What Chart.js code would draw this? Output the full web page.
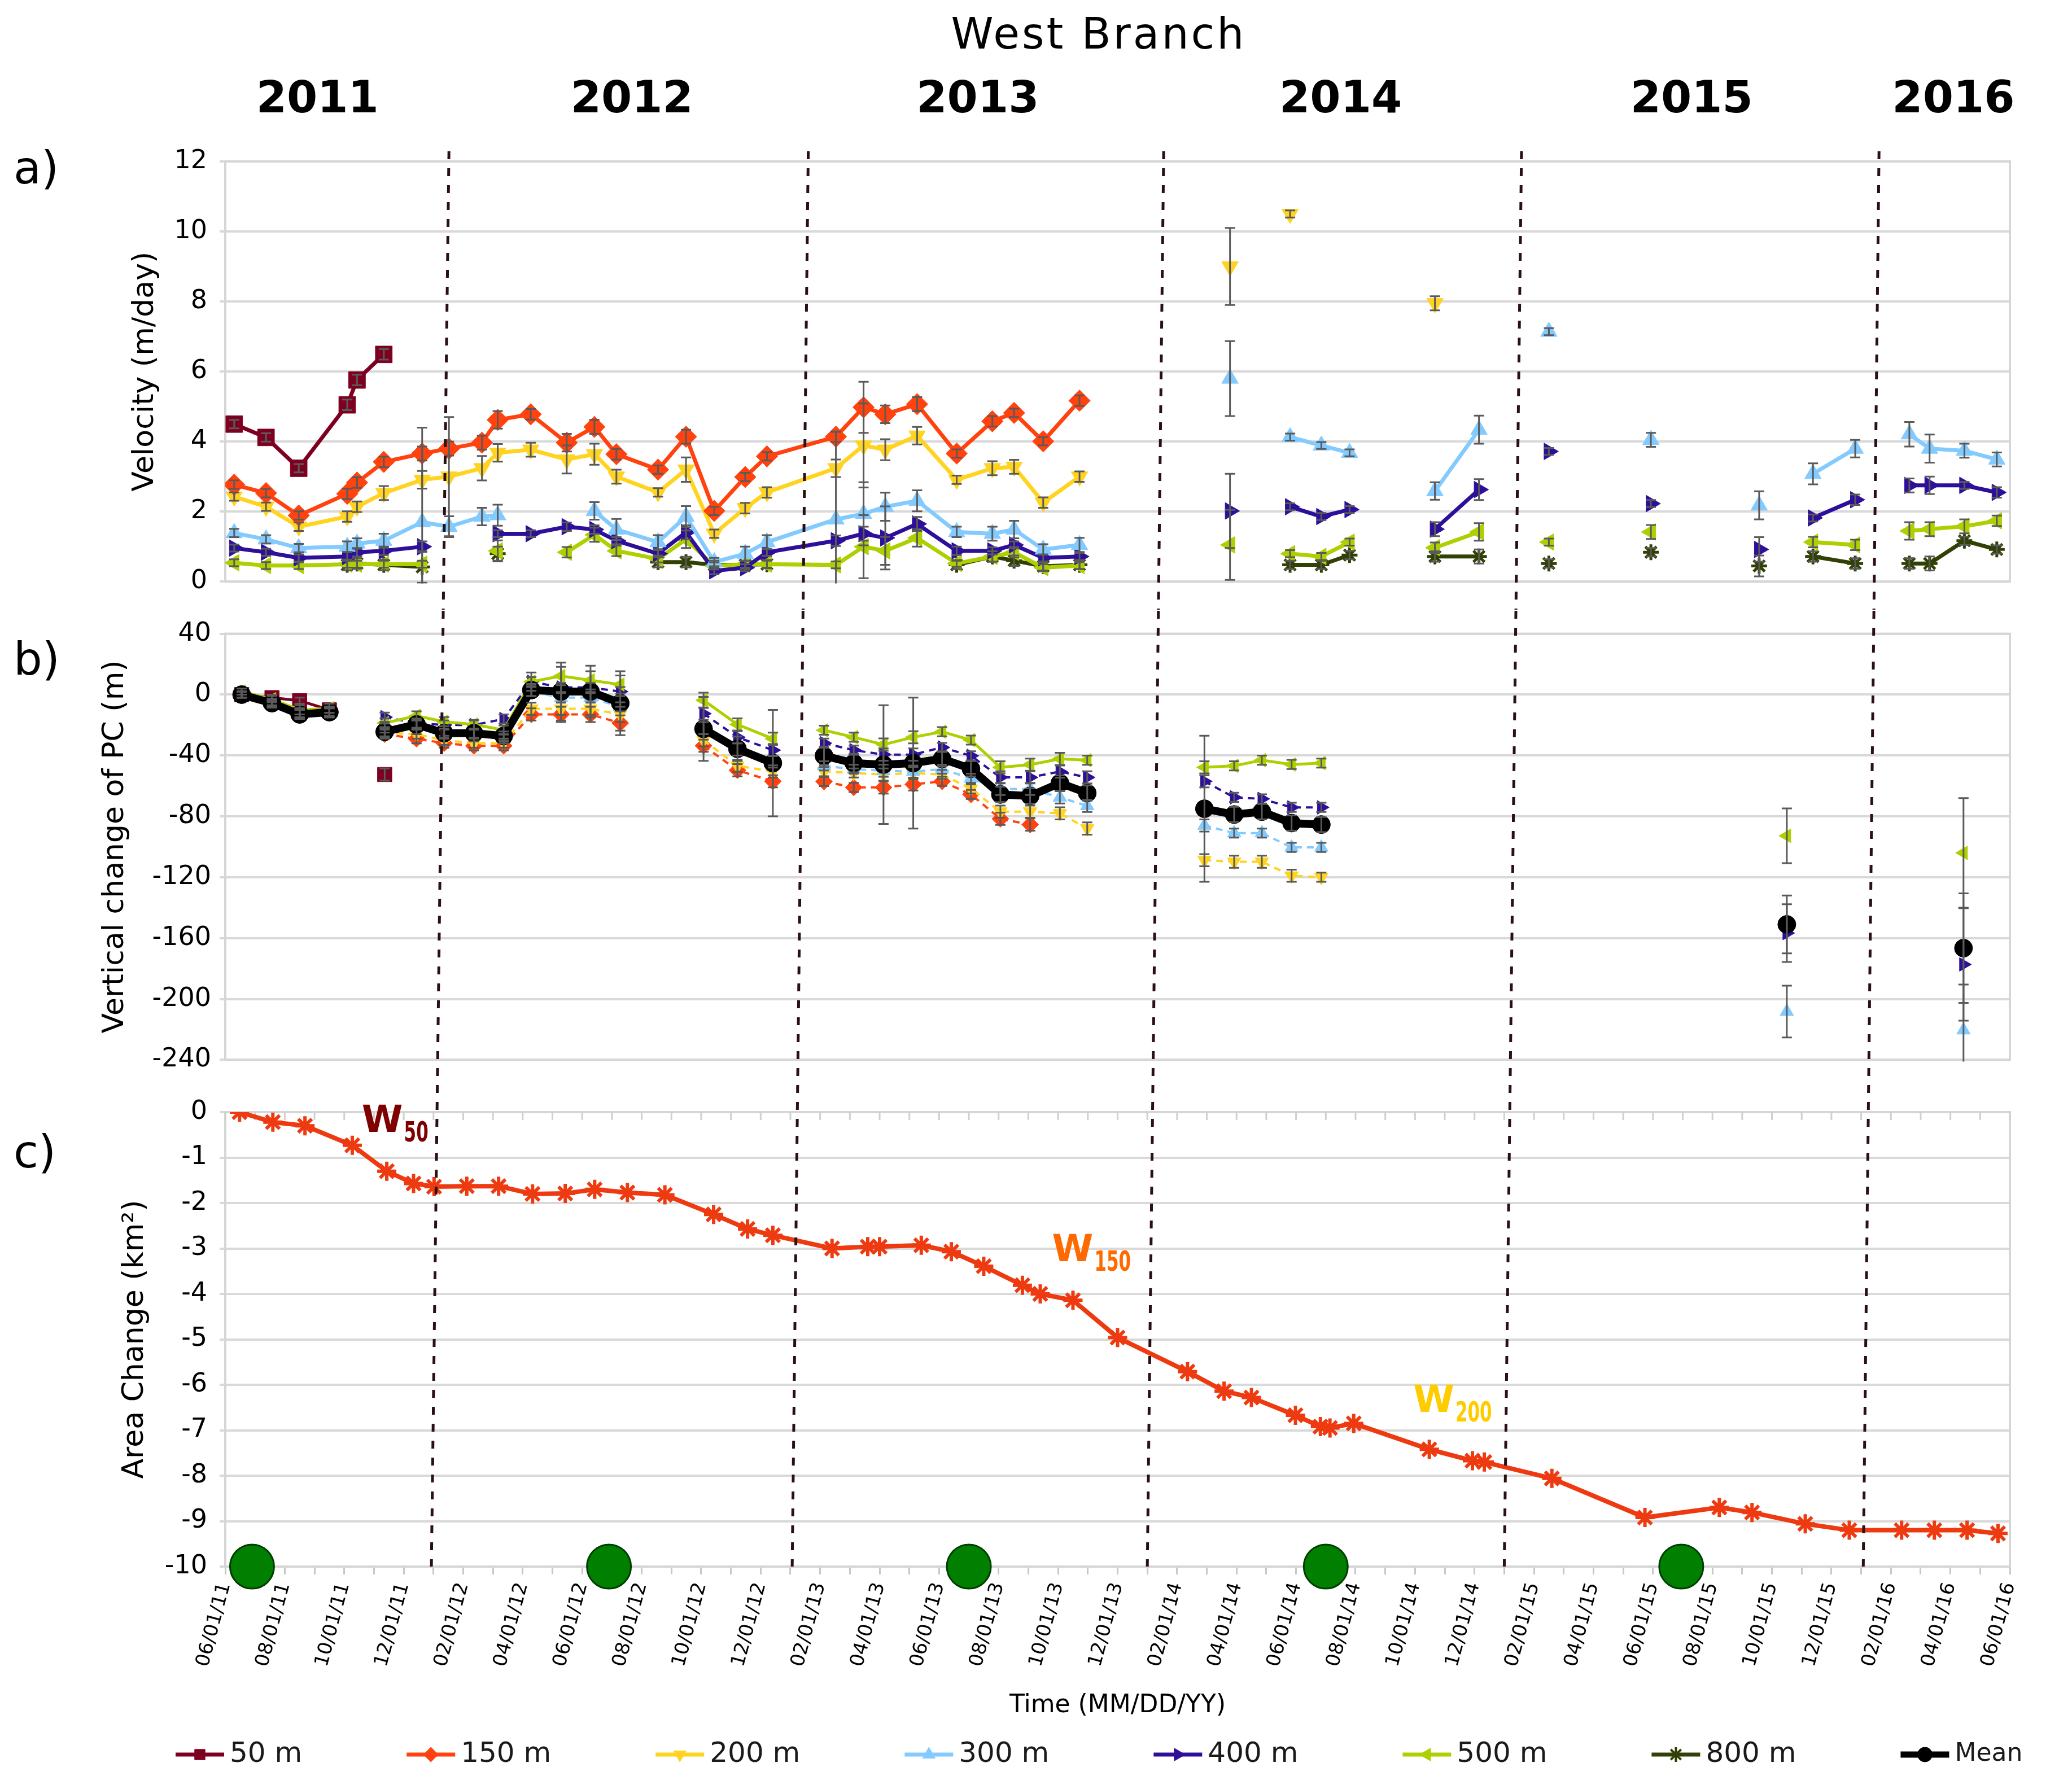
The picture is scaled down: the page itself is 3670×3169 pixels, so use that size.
<!DOCTYPE html>
<html lang="en">
<head>
<meta charset="utf-8">
<title>West Branch</title>
<script src="https://cdn.jsdelivr.net/npm/chart.js@4.4.1/dist/chart.umd.min.js"></script>
<style>
  html, body { margin: 0; padding: 0; background: #fff; }
  body { position: relative; width: 3670px; height: 3169px; overflow: hidden; font-family: 'DejaVu Sans', sans-serif; color: #000; }
  canvas { position: absolute; left: 0; }
  .txt { position: absolute; white-space: nowrap; line-height: 1; }
  #title { left: 1446px; width: 1000px; top: 22px; text-align: center; font-size: 76px; letter-spacing: 4px; }
  .panel { left: 24px; font-size: 80px; }
</style>
</head>
<body>
<canvas id="velocity" width="3670" height="1080" style="top:0"></canvas>
<canvas id="elevation" width="3670" height="840" style="top:1080px"></canvas>
<canvas id="area" width="3670" height="1249" style="top:1920px"></canvas>
<div class="txt" id="title">West Branch</div>
<div class="txt panel" style="top:258px">a)</div>
<div class="txt panel" style="top:1128px">b)</div>
<div class="txt panel" style="top:2001px">c)</div>
<script>
// x values are months counted from 06/01/11

// top axis: years
const yearLabels = ['2011', '2012', '2013', '2014', '2015', '2016'];
const yearCenters = [3.1, 13.67, 25.3, 37.5, 49.3, 58.1];
// dashed year separators (value at top of panel a, value at bottom of panel c)
const yearLineTop = [7.52, 19.6, 31.55, 43.58, 55.6];
const yearLineBottom = [6.93, 19.06, 31.0, 43.0, 55.07];

// bottom axis labels
const tickLabels = ['06/01/11', '08/01/11', '10/01/11', '12/01/11', '02/01/12', '04/01/12', '06/01/12', '08/01/12',
  '10/01/12', '12/01/12', '02/01/13', '04/01/13', '06/01/13', '08/01/13', '10/01/13', '12/01/13', '02/01/14',
  '04/01/14', '06/01/14', '08/01/14', '10/01/14', '12/01/14', '02/01/15', '04/01/15', '06/01/15', '08/01/15',
  '10/01/15', '12/01/15', '02/01/16', '04/01/16', '06/01/16'];

// a) velocity (m/day)
const velDates = [0.30, 1.37, 2.47, 4.10, 4.43, 5.33, 6.62, 7.52, 8.63, 9.16, 10.27, 11.48, 12.41, 13.15, 14.55,
  15.49, 16.44, 17.48, 18.21, 20.53, 21.46, 22.19, 23.26, 24.59, 25.79, 26.52, 27.50, 28.72, 33.78, 35.80, 36.85,
  37.80, 40.67, 42.15, 44.50, 47.93, 51.57, 53.38, 54.80, 56.62, 57.30, 58.47, 59.56];
const velBreaks = [27, 28, 31, 33, 34, 35, 36, 38];
const vel50 = [4.50, 4.12, 3.24, 5.05, 5.76, 6.49];
const vel150 = [2.77, 2.53, 1.89, 2.51, 2.83, 3.42, 3.66, 3.80, 3.97, 4.62, 4.78, 3.97, 4.42, 3.64, 3.20, 4.14,
  2.02, 2.99, 3.58, 4.14, 4.98, 4.78, 5.07, 3.66, 4.58, 4.82, 4.01, 5.17];
const vel200 = [2.43, 2.14, 1.57, 1.86, 2.14, 2.53, 2.91, 3.00, 3.24, 3.68, 3.77, 3.49, 3.64, 3.00, 2.55, 3.20,
  1.37, 2.10, 2.55, 3.24, 3.89, 3.77, 4.17, 2.91, 3.24, 3.28, 2.26, 3.00, 9.00, 10.50, null, null, 7.95];
const vel300 = [1.39, 1.21, 0.96, 1.00, 1.09, 1.17, 1.70, 1.57, 1.86, 1.90, null, null, 2.02, 1.49, 1.13, 1.86,
  0.56, 0.80, 1.13, 1.78, 1.94, 2.14, 2.31, 1.42, 1.37, 1.49, 0.92, 1.05, 5.80, 4.13, 3.89, 3.68, 2.59, 4.34,
  7.14, 4.05, 2.18, 3.08, 3.80, 4.21, 3.80, 3.74, 3.49];
const vel400 = [0.96, 0.84, 0.68, 0.72, 0.84, 0.88, 1.00, null, null, 1.37, 1.37, 1.57, 1.49, 1.17, 0.80, 1.41,
  0.31, 0.40, 0.84, 1.17, 1.37, 1.25, 1.65, 0.88, 0.88, 1.05, 0.68, 0.72, 2.02, 2.14, 1.86, 2.06, 1.50, 2.63,
  3.72, 2.23, 0.92, 1.82, 2.34, 2.75, 2.75, 2.75, 2.55];
const vel500 = [0.54, 0.46, 0.46, 0.50, 0.50, 0.50, 0.50, null, null, 0.88, null, 0.84, 1.34, 0.88, 0.65, 1.21,
  0.45, 0.50, 0.50, 0.48, 1.00, 0.88, 1.25, 0.52, 0.72, 0.84, 0.40, 0.46, 1.05, 0.80, 0.72, 1.13, 0.97, 1.42,
  1.13, 1.42, null, 1.13, 1.05, 1.45, 1.50, 1.58, 1.74];
const vel800 = [null, null, null, 0.48, 0.52, 0.48, 0.42, null, null, 0.80, null, null, null, null, 0.56, 0.56,
  0.48, 0.48, 0.50, null, null, null, null, 0.48, 0.72, 0.60, 0.44, 0.48, null, 0.48, 0.48, 0.76, 0.72, 0.72,
  0.52, 0.84, 0.45, 0.72, 0.52, 0.52, 0.52, 1.17, 0.92];
const velErr50 = [0.12, 0.12, 0.12, 0.15, 0.15, 0.15];
const velErr150 = [0.12, 0.12, 0.12, 0.15, 0.15, 0.15, 0.2, 0.2, 0.2, 0.25, 0.15, 0.25, 0.2, 0.15, 0.12, 0.2,
  0.12, 0.12, 0.12, 0.15, 0.73, 0.25, 0.2, 0.12, 0.15, 0.12, 0.12, 0.15];
const velErr200 = [0.12, 0.12, 0.12, 0.15, 0.15, 0.2, 0.25, 1.7, 0.35, 0.25, 0.2, 0.4, 0.3, 0.2, 0.12, 0.35,
  0.12, 0.15, 0.15, 0.25, 1.2, 0.3, 0.25, 0.12, 0.2, 0.2, 0.15, 0.15, 1.1, 0.1, null, null, 0.2];
const velErr300 = [0.12, 0.12, 0.12, 0.15, 0.15, 0.2, 2.7, 0.3, 0.25, 0.3, null, null, 0.25, 0.3, 0.2, 0.3,
  0.12, 0.2, 0.2, 2.5, 0.9, 0.4, 0.3, 0.15, 0.2, 0.25, 0.15, 0.2, 1.07, 0.1, 0.1, 0.1, 0.25, 0.4, 0.1, 0.2,
  0.4, 0.3, 0.25, 0.35, 0.4, 0.2, 0.2];
const velErr400 = [0.1, 0.1, 0.1, 0.12, 0.12, 0.12, 0.15, null, null, 0.1, 0.1, 0.12, 0.12, 0.1, 0.1, 0.2,
  0.1, 0.1, 0.1, 0.15, 0.2, 0.9, 0.2, 0.12, 0.1, 0.1, 0.1, 0.1, 1.06, 0.1, 0.1, 0.1, 0.2, 0.3, 0.1, 0.1,
  0.35, 0.1, 0.15, 0.2, 0.25, 0.1, 0.15];
const velErr500 = [0.1, 0.1, 0.1, 0.1, 0.1, 0.1, 0.1, null, null, 0.3, null, 0.15, 0.2, 0.15, 0.1, 0.25,
  0.1, 0.1, 0.1, 0.1, 0.9, 0.4, 0.25, 0.1, 0.15, 0.15, 0.1, 0.1, 1.0, 0.1, 0.1, 0.1, 0.15, 0.25, 0.1, 0.2,
  null, 0.15, 0.15, 0.25, 0.2, 0.2, 0.15];
const velErr800 = [null, null, null, 0.15, 0.15, 0.15, 0.45, null, null, 0.2, null, null, null, null, 0.15, 0.15,
  0.12, 0.12, 0.12, null, null, null, null, 0.12, 0.15, 0.15, 0.12, 0.12, null, 0.12, 0.12, 0.12, 0.15, 0.2,
  0.12, 0.12, 0.3, 0.15, 0.15, 0.15, 0.2, 0.12, 0.12];

// b) vertical change of PC (m)
const pcDates = [0.55, 1.57, 2.50, 3.50, 5.36, 6.43, 7.36, 8.36, 9.36, 10.29, 11.29, 12.28, 13.28, 16.08, 17.22,
  18.41, 20.13, 21.13, 22.13, 23.13, 24.10, 25.07, 26.06, 27.06, 28.06, 28.98, 32.92, 33.92, 34.85, 35.85, 36.85,
  52.50, 58.44];
const pcBreaks = [3, 12, 15, 25, 30, 31];
const pcMean = [0, -5.6, -13, -11.5, -24.4, -19.6, -25.3, -25.3, -27.2, 3, 2, 2, -5.6, -22.5, -35.6, -45, -40.2,
  -45, -46, -45, -42.2, -48.7, -65.6, -66.6, -58.1, -64.7, -75, -78.8, -76.9, -84.4, -85.4, -151, -166.6];
const pc500 = [2, -3, -10, -9, -18.7, -14, -17.8, -19.6, -23.3, 8.5, 12.2, 9.4, 6.6, -3.7, -19.6, -29, -23.4,
  -28, -32.8, -28, -24.4, -29.9, -47.8, -46, -42.2, -43.1, -47.8, -46.8, -43.1, -45.9, -45, -92.8, -104];
const pc400 = [0, -5, -12, -11, -14.8, -18.7, -20, -20, -16, 8.5, 4.7, 4.7, 2, -12.5, -28, -36.5, -31.9, -36.5,
  -39.4, -39.4, -34.7, -40.2, -54.4, -54.4, -50.6, -54.4, -57, -67.5, -68.5, -74.1, -74.1, -156.7, -177.3];
const pc300 = [0, -6, -13, -12, -22, -20, -26, -26, -29, 2, -2, -2, -8, -22, -36, -44, -46.8, -49, -50, -50.6,
  -49, -55, -62, -62, -67.5, -73.1, -86, -91, -91, -100.4, -100.4, -208.3, -220.5];
const pc200 = [0, -6, -12, -11, -25, -26, -30, -31.9, -31.9, -9.3, -9.3, -9.3, -13, -30, -46.8, -50.5, -50.6,
  -51.5, -52.5, -51.5, -52.5, -61.9, -76.9, -76.9, -78, -88, -108.8, -109.8, -109.8, -119, -120];
const pc150 = [0, -6, -12, -12, -26, -29, -31.9, -33.7, -33.7, -13, -13, -13, -18.7, -33.6, -49.7, -57, -57.1,
  -61, -61, -59, -57, -65.6, -81.6, -85.4];
const pc50 = [0, -2, -4, -10, -52.5];
const pcErrMean = [2, 3, 3, 3, 3, 3, 3, 3, 3, 4, 19, 17, 21, 21, 8, 35, 6, 6, 39, 43, 5, 5, 5, 5, 5, 5, 48, 5, 5,
  5, 5, 19, 36];
const pcErr500 = [2, 2, 3, 3, 3, 3, 3, 3, 3, 6, 6, 6, 6, 5, 4, 4, 3, 3, 4, 4, 3, 3, 4, 4, 4, 3, 4, 3, 3, 3, 3, 18, 36];
const pcErr400 = [2, 2, 3, 3, 3, 3, 3, 3, 3, 3, 3, 3, 3, 4, 4, 4, 3, 3, 4, 4, 3, 3, 4, 4, 4, 4, 4, 3, 3, 3, 3, 19, 37];
const pcErr300 = [2, 2, 3, 3, 3, 3, 3, 3, 3, 3, 3, 3, 3, 4, 4, 4, 3, 3, 4, 4, 3, 3, 4, 4, 4, 4, 4, 3, 3, 3, 3, 17, 30];
const pcErr200 = [2, 2, 3, 3, 3, 3, 3, 3, 3, 4, 4, 4, 5, 4, 4, 4, 3, 3, 4, 4, 3, 3, 4, 4, 4, 4, 4, 4, 4, 4, 3];
const pcErr150 = [2, 2, 3, 3, 3, 3, 3, 3, 3, 4, 5, 5, 5, 4, 4, 4, 3, 3, 4, 4, 3, 3, 4, 4];
const pcErr50 = [2, 2, 2, 2, 4];

// c) area change (km²)
const areaDates = [0.48, 1.60, 2.68, 4.27, 5.43, 6.33, 7.02, 8.12, 9.19, 10.33, 11.43, 12.42, 13.52, 14.78, 16.42,
  17.56, 18.41, 20.40, 21.60, 22.00, 23.40, 24.41, 25.50, 26.80, 27.40, 28.50, 30.00, 32.35, 33.58, 34.50, 35.98,
  36.82, 37.14, 37.94, 40.48, 41.93, 42.33, 44.60, 47.73, 50.23, 51.33, 53.12, 54.60, 56.36, 57.46, 58.56, 59.60];
const areaChange = [0, -0.22, -0.30, -0.73, -1.30, -1.57, -1.64, -1.63, -1.63, -1.80, -1.79, -1.70, -1.77, -1.82,
  -2.25, -2.57, -2.71, -3.00, -2.96, -2.96, -2.93, -3.07, -3.39, -3.81, -4.00, -4.14, -4.96, -5.71, -6.14, -6.28,
  -6.67, -6.92, -6.95, -6.85, -7.42, -7.67, -7.70, -8.06, -8.92, -8.70, -8.81, -9.06, -9.20, -9.20, -9.20, -9.20,
  -9.27];
const summerDates = [0.9, 12.9, 25.0, 37.0, 48.95];
const summerLevel = [-10, -10, -10, -10, -10];
const labelSubs = ['50', '150', '200'];
const labelX = [4.59, 27.8, 39.94];
const labelY = [-0.43, -3.28, -6.6];

const legendNames = ['50 m', '150 m', '200 m', '300 m', '400 m', '500 m', '800 m', 'Mean'];

// ---------------------------------------------------------------------------
const FONT = "'DejaVu Sans', sans-serif";
const PLOT_LEFT = 399;
const PLOT_RIGHT_PAD = 110;
const LINE_TOP = 268, LINE_BOTTOM = 2775;   // page y where year separators start/stop
const labelColors = ['#7f0000', '#ff6a00', '#ffcc00'];

const STYLE = {
  '50 m':  { color: '#7e0021', pointStyle: 'rect', rotation: 0, radius: 21 },
  '150 m': { color: '#ff420e', pointStyle: 'rectRot', rotation: 0, radius: 19 },
  '200 m': { color: '#ffd320', pointStyle: 'triangle', rotation: 180, radius: 17 },
  '300 m': { color: '#83caff', pointStyle: 'triangle', rotation: 0, radius: 17 },
  '400 m': { color: '#2e0f9a', pointStyle: 'triangle', rotation: 90, radius: 17 },
  '500 m': { color: '#aecf00', pointStyle: 'triangle', rotation: -90, radius: 17 },
  '800 m': { color: '#314004', pointStyle: 'star', rotation: 0, radius: 14 },
  'Mean':  { color: '#000000', pointStyle: 'circle', rotation: 0, radius: 16 }
};

Chart.defaults.font.family = FONT;
Chart.defaults.color = '#000';

const frame = {
  id: 'frame',
  beforeDatasetsDraw(chart, args, opts) {
    const { ctx, chartArea: a, scales: { x } } = chart;
    ctx.save();
    ctx.strokeStyle = '#d6d6d6';
    ctx.lineWidth = 4;
    ctx.strokeRect(a.left, a.top, a.right - a.left, a.bottom - a.top);
    if (opts.innerTicks) {
      // monthly tick marks along the inside of the top edge
      ctx.strokeStyle = '#d0d0d0';
      ctx.lineWidth = 3;
      x.ticks.forEach(t => {
        const px = x.getPixelForValue(t.value);
        ctx.beginPath();
        ctx.moveTo(px, a.top);
        ctx.lineTo(px, a.top + 14);
        ctx.stroke();
      });
    }
    ctx.restore();
  }
};

const errorBars = {
  id: 'errorBars',
  afterDatasetsDraw(chart) {
    const { ctx, chartArea: a, scales: { y } } = chart;
    ctx.save();
    ctx.beginPath();
    ctx.rect(a.left, a.top - 3, a.right - a.left, a.bottom - a.top + 6);
    ctx.clip();
    ctx.strokeStyle = '#5a5a5a';
    ctx.lineWidth = 3;
    chart.data.datasets.forEach((ds, di) => {
      if (!ds.errors) return;
      const meta = chart.getDatasetMeta(di);
      meta.data.forEach((pt, i) => {
        const v = ds.data[i].y, e = ds.errors[i];
        if (v == null || e == null) return;
        const top = y.getPixelForValue(v + e), bot = y.getPixelForValue(v - e);
        ctx.beginPath();
        ctx.moveTo(pt.x, top); ctx.lineTo(pt.x, bot);
        ctx.moveTo(pt.x - 9, top); ctx.lineTo(pt.x + 9, top);
        ctx.moveTo(pt.x - 9, bot); ctx.lineTo(pt.x + 9, bot);
        ctx.stroke();
      });
    });
    ctx.restore();
  }
};

const yearLines = {
  id: 'yearLines',
  afterDatasetsDraw(chart, args, opts) {
    const { ctx, scales: { x } } = chart;
    const from = Math.max(LINE_TOP, opts.pageTop);
    const to = Math.min(LINE_BOTTOM, opts.pageTop + chart.height);
    if (to <= from) return;
    const at = (i, p) => yearLineTop[i] + (yearLineBottom[i] - yearLineTop[i]) * (p - LINE_TOP) / (LINE_BOTTOM - LINE_TOP);
    ctx.save();
    ctx.strokeStyle = '#2a1010';
    ctx.lineWidth = 5;
    ctx.setLineDash([14, 16]);
    ctx.lineDashOffset = -(from - LINE_TOP);
    yearLineTop.forEach((_, i) => {
      ctx.beginPath();
      ctx.moveTo(x.getPixelForValue(at(i, from)), from - opts.pageTop);
      ctx.lineTo(x.getPixelForValue(at(i, to)), to - opts.pageTop);
      ctx.stroke();
    });
    ctx.restore();
  }
};

const wLabels = {
  id: 'wLabels',
  afterDatasetsDraw(chart) {
    const { ctx, scales: { x, y } } = chart;
    ctx.save();
    ctx.textBaseline = 'alphabetic';
    labelSubs.forEach((sub, i) => {
      const px = x.getPixelForValue(labelX[i]), py = y.getPixelForValue(labelY[i]);
      ctx.fillStyle = labelColors[i];
      ctx.font = `bold 66px ${FONT}`;
      ctx.fillText('W', px, py);
      const w = ctx.measureText('W').width;
      ctx.save();
      ctx.translate(px + w + 2, py + 17);
      ctx.scale(0.62, 1);
      ctx.font = `bold 50px ${FONT}`;
      ctx.fillText(sub, 0, 0);
      ctx.restore();
    });
    ctx.restore();
  }
};

const seriesLegend = {
  id: 'seriesLegend',
  afterDraw(chart, args, opts) {
    const { ctx, scales: { x } } = chart;
    const y = x.bottom + opts.offset;
    let left = opts.start;
    ctx.save();
    ctx.textBaseline = 'middle';
    legendNames.forEach(name => {
      const st = STYLE[name];
      ctx.font = `${name === 'Mean' ? opts.fontSize - 6 : opts.fontSize}px ${FONT}`;
      ctx.strokeStyle = st.color;
      ctx.fillStyle = st.color;
      ctx.lineWidth = name === 'Mean' ? 11 : 7;
      ctx.beginPath();
      ctx.moveTo(left, y);
      ctx.lineTo(left + opts.lineLength, y);
      ctx.stroke();
      ctx.lineWidth = st.pointStyle === 'star' ? 4 : 1;
      Chart.helpers.drawPoint(ctx, { pointStyle: st.pointStyle, rotation: st.rotation, radius: 13, borderWidth: ctx.lineWidth },
        left + opts.lineLength / 2, y);
      ctx.fillStyle = '#1a1a1a';
      ctx.fillText(name, left + opts.lineLength + 10, y);
      left += opts.lineLength + 10 + ctx.measureText(name).width + opts.gap;
    });
    ctx.restore();
  }
};

function series(name, dates, values, errors, breaks, extra) {
  const st = STYLE[name];
  return Object.assign({
    label: name,
    data: dates.map((x, i) => ({ x, y: values[i] ?? null })),
    errors,
    borderColor: st.color,
    backgroundColor: st.color,
    pointBackgroundColor: st.color,
    pointBorderColor: st.color,
    pointStyle: st.pointStyle,
    pointRotation: st.rotation,
    pointRadius: st.radius,
    pointBorderWidth: st.pointStyle === 'star' ? 5 : 1,
    borderWidth: 7,
    tension: 0,
    spanGaps: false,
    segment: { borderColor: c => breaks.includes(c.p0DataIndex) ? 'rgba(0,0,0,0)' : undefined }
  }, extra || {});
}

function yAxis(min, max, step, title, titlePad, tickPad) {
  return {
    min, max,
    afterFit: s => { s.width = PLOT_LEFT; },
    ticks: { stepSize: step, padding: tickPad, color: '#000', font: { size: 46 } },
    grid: { color: '#d9d9d9', lineWidth: 4, tickLength: 10 },
    border: { display: true, color: '#cfcfcf', width: 4 },
    title: { display: true, text: title, color: '#000', font: { size: 52 }, padding: { top: titlePad, bottom: 0 } }
  };
}

const hiddenX = { type: 'linear', min: 0, max: 60, display: false };
const base = { responsive: false, animation: false, events: [] };

// a) velocity
new Chart(document.getElementById('velocity'), {
  type: 'line',
  data: {
    datasets: [
      series('50 m', velDates, vel50, velErr50, velBreaks),
      series('150 m', velDates, vel150, velErr150, velBreaks),
      series('200 m', velDates, vel200, velErr200, velBreaks),
      series('300 m', velDates, vel300, velErr300, velBreaks),
      series('400 m', velDates, vel400, velErr400, velBreaks),
      series('500 m', velDates, vel500, velErr500, velBreaks),
      series('800 m', velDates, vel800, velErr800, velBreaks)
    ]
  },
  options: Object.assign({}, base, {
    layout: { padding: { top: 100, right: PLOT_RIGHT_PAD, bottom: 40, left: 0 } },
    plugins: { legend: { display: false }, tooltip: { enabled: false }, yearLines: { pageTop: 0 } },
    scales: {
      x: {
        type: 'linear', position: 'top', min: 0, max: 60,
        grid: { display: false }, border: { display: false },
        afterFit: s => { s.height = 186; },
        afterBuildTicks: s => { s.ticks = yearCenters.map(v => ({ value: v })); },
        ticks: { autoSkip: false, maxRotation: 0, padding: 52, color: '#000',
          font: { size: 78, weight: 'bold' }, callback: (v, i) => yearLabels[i] }
      },
      y: yAxis(0, 12, 2, 'Velocity (m/day)', 226, 22)
    }
  }),
  plugins: [frame, errorBars, yearLines]
});

// b) vertical change
const thin = { borderWidth: 5 };
const dashed = { borderWidth: 4, borderDash: [12, 9] };
const small = r => ({ pointRadius: r });
new Chart(document.getElementById('elevation'), {
  type: 'line',
  data: {
    datasets: [
      series('Mean', pcDates, pcMean, pcErrMean, pcBreaks, { borderWidth: 14 }),
      series('500 m', pcDates, pc500, pcErr500, pcBreaks, Object.assign({}, thin, small(14))),
      series('400 m', pcDates, pc400, pcErr400, pcBreaks, Object.assign({}, dashed, small(14))),
      series('300 m', pcDates, pc300, pcErr300, pcBreaks, Object.assign({}, dashed, small(14))),
      series('200 m', pcDates, pc200, pcErr200, pcBreaks, Object.assign({}, dashed, small(14))),
      series('150 m', pcDates, pc150, pcErr150, pcBreaks, Object.assign({}, dashed, small(15))),
      series('50 m', pcDates, pc50, pcErr50, pcBreaks, Object.assign({}, thin, small(18)))
    ]
  },
  options: Object.assign({}, base, {
    layout: { padding: { top: 39, right: PLOT_RIGHT_PAD, bottom: 40, left: 0 } },
    plugins: { legend: { display: false }, tooltip: { enabled: false }, yearLines: { pageTop: 1080 } },
    scales: { x: hiddenX, y: yAxis(-240, 40, 40, 'Vertical change of PC (m)', 173, 15) }
  }),
  plugins: [frame, errorBars, yearLines]
});

// c) area change
const tickMonths = tickLabels.map(t => {
  const [mm, dd, yy] = t.split('/').map(Number);
  return (yy - 11) * 12 + (mm - 6) + (dd - 1) / 30;
});
new Chart(document.getElementById('area'), {
  type: 'line',
  data: {
    datasets: [
      {
        label: 'Area',
        data: areaDates.map((x, i) => ({ x, y: areaChange[i] })),
        borderColor: '#ee3a10', backgroundColor: '#ee3a10',
        pointBorderColor: '#ee3a10', pointStyle: 'star', pointRadius: 17, pointBorderWidth: 6,
        borderWidth: 8, tension: 0
      },
      {
        label: 'Summer',
        data: summerDates.map((x, i) => ({ x, y: summerLevel[i] })),
        showLine: false, clip: false,
        pointStyle: 'circle', pointRadius: 39,
        pointBackgroundColor: '#007f00', pointBorderColor: '#003d00', pointBorderWidth: 3
      }
    ]
  },
  options: Object.assign({}, base, {
    layout: { padding: { top: 50, right: PLOT_RIGHT_PAD, bottom: 114, left: 0 } },
    plugins: {
      legend: { display: false }, tooltip: { enabled: false },
      frame: { innerTicks: true },
      yearLines: { pageTop: 1920 },
      seriesLegend: { offset: 53, start: 311, lineLength: 86, gap: 185, fontSize: 50 }
    },
    scales: {
      x: {
        type: 'linear', position: 'bottom', min: 0, max: 60,
        afterFit: s => { s.height = 280; },
        afterBuildTicks: s => {
          const t = [];
          for (let m = 0; m <= 60; m++) t.push({ value: m });
          s.ticks = t;
        },
        grid: { drawOnChartArea: false, drawTicks: true, tickLength: 14, color: '#c8c8c8', lineWidth: 3 },
        border: { display: false },
        ticks: {
          autoSkip: false, minRotation: 75, maxRotation: 75, padding: 10, color: '#000',
          font: { size: 34 },
          callback: v => { const k = tickMonths.indexOf(v); return k >= 0 ? tickLabels[k] : ''; }
        },
        title: { display: true, text: 'Time (MM/DD/YY)', color: '#000', font: { size: 44 }, padding: { top: 0, bottom: 7 } }
      },
      y: yAxis(-10, 0, 1, 'Area Change (km²)', 208, 22)
    }
  }),
  plugins: [frame, errorBars, wLabels, yearLines, seriesLegend]
});
</script>
</body>
</html>
